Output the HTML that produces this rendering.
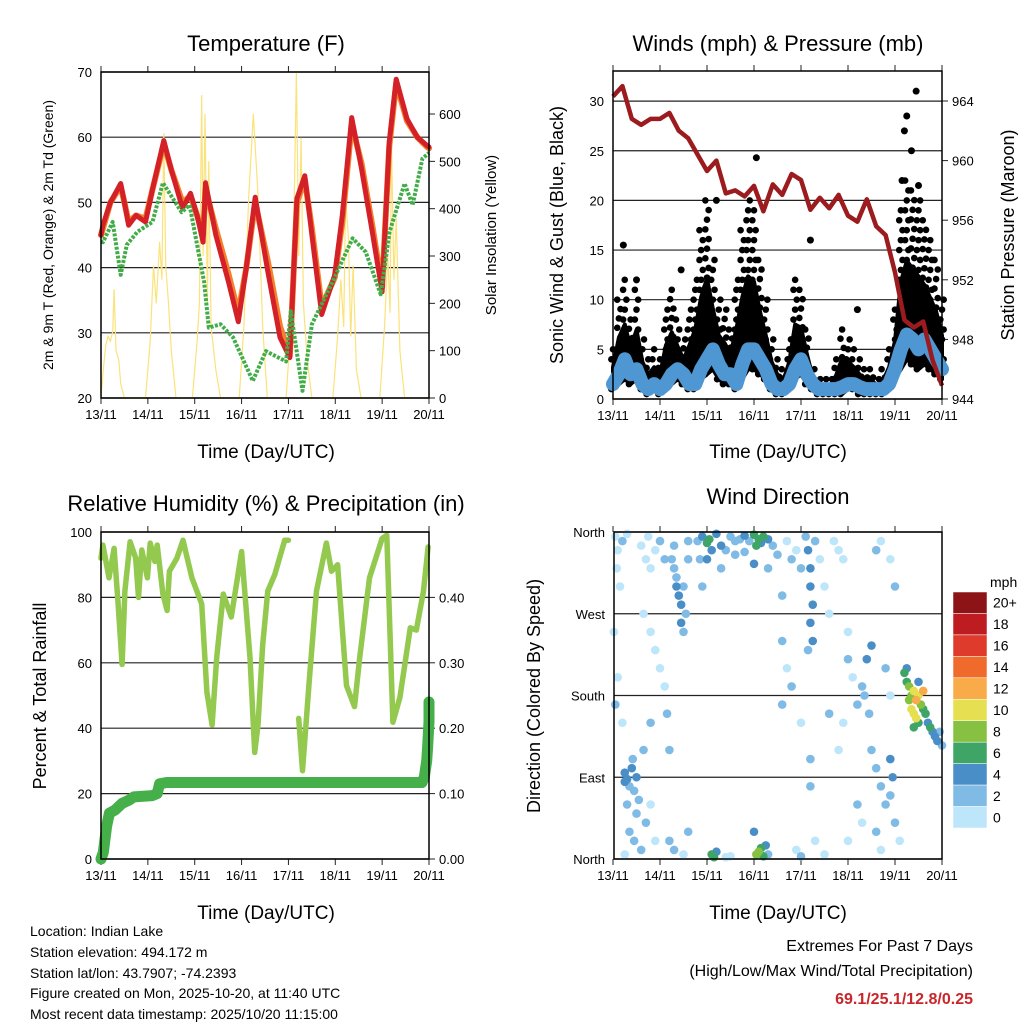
<!DOCTYPE html>
<html><head><meta charset="utf-8"><title>Weather station charts</title>
<style>
html,body{margin:0;padding:0;background:#fff;}
svg{display:block;font-family:"Liberation Sans",sans-serif;}
</style></head>
<body>
<svg id="chart" width="1024" height="1024" viewBox="0 0 1024 1024" xmlns="http://www.w3.org/2000/svg">
<rect x="0" y="0" width="1024" height="1024" fill="#fff"/>
<text x="266" y="51" font-size="22" text-anchor="middle">Temperature (F)</text>
<text x="778" y="51" font-size="22" text-anchor="middle">Winds (mph) &amp; Pressure (mb)</text>
<text x="266" y="511" font-size="22" text-anchor="middle">Relative Humidity (%) &amp; Precipitation (in)</text>
<text x="778" y="504" font-size="22" text-anchor="middle">Wind Direction</text>
<text x="266" y="458" font-size="19" text-anchor="middle">Time (Day/UTC)</text>
<text x="778" y="458" font-size="19" text-anchor="middle">Time (Day/UTC)</text>
<text x="266" y="919" font-size="19" text-anchor="middle">Time (Day/UTC)</text>
<text x="778" y="919" font-size="19" text-anchor="middle">Time (Day/UTC)</text>
<text transform="translate(53,235) rotate(-90)" font-size="14" text-anchor="middle">2m &amp; 9m T (Red, Orange) &amp; 2m Td (Green)</text>
<text transform="translate(496,235) rotate(-90)" font-size="15" text-anchor="middle">Solar Insolation (Yellow)</text>
<text transform="translate(563,235) rotate(-90)" font-size="18" text-anchor="middle">Sonic Wind &amp; Gust (Blue, Black)</text>
<text transform="translate(1014,235) rotate(-90)" font-size="18" text-anchor="middle">Station Pressure (Maroon)</text>
<text transform="translate(46,696) rotate(-90)" font-size="18" text-anchor="middle">Percent &amp; Total Rainfall</text>
<text transform="translate(540,696) rotate(-90)" font-size="18" text-anchor="middle">Direction (Colored By Speed)</text>
<g font-size="14">
<text x="30" y="936">Location: Indian Lake</text>
<text x="30" y="957">Station elevation: 494.172 m</text>
<text x="30" y="978">Station lat/lon: 43.7907; -74.2393</text>
<text x="30" y="998">Figure created on Mon, 2025-10-20, at 11:40 UTC</text>
<text x="30" y="1019">Most recent data timestamp: 2025/10/20 11:15:00</text>
</g>
<text x="973" y="951" font-size="16" text-anchor="end">Extremes For Past 7 Days</text>
<text x="973" y="976" font-size="16" text-anchor="end">(High/Low/Max Wind/Total Precipitation)</text>
<text x="973" y="1004" font-size="16" font-weight="bold" fill="#c8262a" text-anchor="end">69.1/25.1/12.8/0.25</text>
<text x="990" y="587" font-size="14">mph</text>
</svg>
<script>
// ---------- data ----------
const dayLabels = ["13/11","14/11","15/11","16/11","17/11","18/11","19/11","20/11"];
const tempTicks = [20,30,40,50,60,70];
const solarTicks = [0,100,200,300,400,500,600];
const windTicks = [0,5,10,15,20,25,30];
const presTicks = [944,948,952,956,960,964];
const rhTicks = [0,20,40,60,80,100];
const rainTicks = [0,0.1,0.2,0.3,0.4];
const rainTickLabels = ["0.00","0.10","0.20","0.30","0.40"];
const dirTicks = [0,90,180,270,360];
const dirTickLabels = ["North","East","South","West","North"];

const tempTimes = [0,0.04,0.2,0.42,0.5,0.59,0.75,0.95,1.1,1.34,1.5,1.74,1.91,2.05,2.18,2.23,2.45,2.72,2.93,3.1,3.29,3.56,3.82,4.03,4.18,4.35,4.5,4.71,4.99,5.15,5.35,5.56,5.8,6.0,6.15,6.3,6.53,6.75,6.96,7.0];
const tempRed =   [45,46.5,50,52.9,50,46.5,48,47,52,59.5,55,49.1,51.4,48,43.9,53,45,37.8,31.7,40,50.8,39.4,29.3,26.2,50.6,54.1,45,32.8,38.9,48,63,55.2,45,36.3,59.2,68.9,62.8,60,58.7,58.5];
const tempOrange= [45,46,50,52.5,50,47,48,47.5,52,59,55,50,51,48,45,52,46,39,33,40,50,41,31,26.5,50,53.5,46,34,38.5,47,62,56,46,37,58.5,68.3,62.5,60,58.5,58.3];
const dewTimes = [0,0.04,0.25,0.42,0.55,0.78,1.1,1.32,1.72,1.89,2.2,2.3,2.55,2.82,3.24,3.52,3.95,4.05,4.3,4.5,4.94,5.37,5.65,5.97,6.16,6.48,6.65,6.86,7.0];
const dewVals =  [44,43.9,47,38.9,43.5,45.5,47,53,48.5,49.6,37.8,30.8,31.3,29.3,22.6,27.2,25.6,33.3,21.1,31.3,37.8,44.5,42.4,35.9,45.5,52.9,49.6,56.7,57.6];
const solarTimes = [0,0.05,0.1,0.15,0.2,0.25,0.28,0.32,0.38,0.42,0.5,0.95,1.05,1.12,1.18,1.25,1.3,1.34,1.38,1.44,1.5,1.6,1.95,2.05,2.1,2.15,2.18,2.22,2.27,2.3,2.35,2.45,2.55,2.95,3.05,3.15,3.25,3.35,3.45,3.55,3.95,4.05,4.12,4.17,4.22,4.27,4.32,4.4,4.5,4.95,5.05,5.12,5.18,5.22,5.28,5.33,5.38,5.45,5.55,5.95,6.05,6.12,6.17,6.2,6.25,6.3,6.38,6.48,7.0];
const solarVals = [0,60,110,130,120,140,230,100,80,30,0,0,120,280,200,330,250,560,280,200,100,0,0,120,200,640,300,600,200,500,150,60,0,0,150,420,600,430,150,0,0,150,400,690,300,550,200,80,0,0,130,250,150,420,340,130,280,60,0,0,150,300,180,540,250,380,100,0,0];

const windTimes = [0,0.125,0.25,0.375,0.5,0.625,0.75,0.875,1,1.125,1.25,1.375,1.5,1.625,1.75,1.875,2,2.125,2.25,2.375,2.5,2.625,2.75,2.875,3,3.125,3.25,3.375,3.5,3.625,3.75,3.875,4,4.125,4.25,4.375,4.5,4.625,4.75,4.875,5,5.125,5.25,5.375,5.5,5.625,5.75,5.875,6,6.125,6.25,6.375,6.5,6.625,6.75,6.875,7];
const windSust = [1.5,2.5,4,2.5,3,1.5,1,1.5,1,1.5,2.5,3,2.5,1.5,1.5,3,4,5,3.5,2.5,2.5,1.5,3.5,5,5,4,3,1.5,1,1,1.5,3,4,2.5,1.5,1,1,1,1,1.2,1.5,1.5,1.2,1,1,1,1,1.5,3,5,6.5,6,5,6,5,4,3];
const gustHi =   [5,10,12,8,11,6,4,5,4,9,11,8,6,9,12,17,20,14,10,9,7,12,17,20,19,14,10,6,4,3,6,12,11,7,3,2,2,2,4,7,6,5,4,3,3,2,3,5,9,19,22,21,20,18,16,14,10];
const gustLo =   [1,1.5,2,1.5,2,1,0.5,1,0.5,1,1.5,2,1.5,1,1,2,2.5,3,2,1.5,1.5,1,2,3,3,2.5,2,1,0.5,0.5,1,2,2.5,1.5,1,0.5,0.5,0.5,0.5,0.5,1,1,0.5,0.5,0.5,0.5,0.5,1,2,3,4,3.5,3,3.5,3,2.5,2];
const gustOutT = [0.22,2.2,3.05,4.2,6.15,6.2,6.25,6.45,6.35,6.5,0.5,1.45,5.2];
const gustOutV = [15.5,20,24.3,16,22,27,28.5,31,25,21.5,12,13,9];
const presTimes = [0,0.2,0.4,0.6,0.8,1.0,1.2,1.4,1.6,1.8,2.0,2.2,2.4,2.6,2.8,3.0,3.2,3.4,3.6,3.8,4.0,4.2,4.4,4.6,4.8,5.0,5.2,5.4,5.6,5.8,6.0,6.2,6.4,6.6,6.8,7.0];
const presVals = [964.3,965,962.8,962.4,962.8,962.8,963.2,962.0,961.5,960.4,959.3,960.0,957.8,958.0,957.6,958.3,956.6,958.4,957.7,959.1,958.7,956.7,957.5,956.8,957.7,956.3,955.9,957.4,955.6,955.0,952.5,949.3,948.8,949.2,946.6,944.9];

const rhTimes = [0,0.04,0.17,0.28,0.36,0.45,0.51,0.62,0.74,0.8,0.87,0.99,1.05,1.15,1.2,1.32,1.41,1.46,1.62,1.75,1.94,2.15,2.26,2.37,2.47,2.61,2.78,3.0,3.18,3.28,3.35,3.45,3.56,3.71,3.92,4.0,4.06,4.22,4.3,4.45,4.6,4.81,4.92,5.05,5.24,5.41,5.52,5.73,6.0,6.1,6.23,6.38,6.6,6.73,6.88];
const rhVals =  [92,96,86,95,79,59.5,82,97,92,80,94.5,86,96.6,91,96,81,76,88,92,97.5,86,78,51,41,61.6,81,74,94,61.6,32.6,41,65.5,82,87,97.5,97.5,null,43,27,55.5,82,96.6,88,90,53,46.6,61.6,86,98,99,41.8,49.4,70.7,70,81.7];
const rhTail = [95.4];
const rainTimes = [0,0.05,0.12,0.18,0.3,0.45,0.6,0.7,1.1,1.2,1.25,1.4,6.85,6.9,6.95,6.97,7.0,7.0];
const rainVals = [0,0.01,0.05,0.07,0.075,0.085,0.09,0.095,0.097,0.1,0.115,0.117,0.117,0.125,0.15,0.17,0.21,0.24];

const dirTimes = [0.05,0.1,0.2,0.3,0.08,0.15,0.02,0.1,0.05,0.2,
0.25,0.3,0.35,0.4,0.45,0.5,0.55,0.3,0.42,0.25,0.5,0.35,0.45,0.6,0.25,0.7,0.8,0.9,0.65,0.8,
0.6,0.7,0.8,0.9,0.75,1.0,1.1,0.65,0.8,0.9,1.0,1.1,1.2,1.15,
1.25,1.3,1.35,1.4,1.45,1.35,1.5,1.55,1.6,1.3,1.45,1.5,1.6,1.2,1.3,1.5,1.6,
1.8,1.9,2.0,2.05,2.1,2.2,2.3,1.85,2.0,2.3,2.1,2.15,2.2,1.9,2.4,2.4,2.5,
2.5,2.6,2.7,2.8,2.9,3.0,3.1,3.2,3.05,3.15,3.3,2.6,2.8,3.4,3.5,3.3,3.0,3.1,3.15,3.2,3.25,3.05,3.3,3.0,3.6,
3.7,3.8,3.9,4.0,4.1,4.15,4.2,4.2,4.25,4.2,4.25,4.15,4.3,4.4,4.5,4.6,3.6,3.7,3.8,3.6,4.0,4.2,4.2,3.9,4.0,4.3,4.5,
4.7,4.8,4.9,5.0,5.0,5.1,5.2,4.9,5.3,5.4,5.5,5.35,5.45,5.5,5.6,5.7,5.8,5.6,5.7,5.3,5.0,5.2,4.6,4.8,5.8,5.9,5.6,5.7,5.9,6.0,5.9,5.95,5.9,6.0,6.1,
6.2,6.25,6.3,6.35,6.4,6.45,6.5,6.55,6.6,6.3,6.4,6.45,6.5,6.65,6.7,6.75,6.8,6.85,6.9,7.0,6.95,6.6,6.35,6.25,6.5,6.4];
const dirVals = [355,340,350,358,320,300,250,200,170,150,
95,88,80,100,75,90,65,60,110,85,50,30,20,10,5,40,60,20,120,150,
345,330,320,340,355,350,330,270,250,230,210,190,120,160,
330,320,300,290,280,310,300,270,330,345,260,250,350,20,10,5,30,
350,355,348,352,340,358,345,330,330,320,5,2,8,300,340,2,3,
355,350,352,356,350,357,352,355,345,348,352,335,338,345,335,320,325,8,12,3,15,5,5,30,290,
350,330,340,320,355,340,320,300,280,260,240,230,350,330,300,270,240,210,190,170,150,110,80,10,3,20,5,
350,340,330,250,220,200,170,150,190,220,235,180,160,120,100,80,60,30,10,40,20,60,160,120,210,180,340,350,330,300,110,90,70,40,20,
205,195,190,180,185,175,180,170,165,175,160,155,150,160,150,145,140,135,130,125,140,185,165,210,195,145];
const dirSpeeds = [1,1,2,1,1,1,1,1,2,1,
4,4,3,4,3,4,3,3,3,5,2,2,3,2,1,2,1,1,2,2,
1,1,1,1,1,2,2,1,1,1,1,1,2,2,
3,3,4,4,4,3,3,2,2,3,5,2,2,2,2,1,2,
3,4,6,7,5,4,4,3,4,3,7,6,5,2,3,1,1,
3,2,3,4,3,6,6,7,6,5,4,2,3,2,3,3,5,8,6,7,5,8,3,4,2,
1,2,1,2,3,4,4,4,5,5,4,2,3,1,1,1,2,1,2,2,1,2,3,1,2,1,1,
1,1,1,1,2,1,2,1,3,4,4,3,3,2,2,3,3,2,1,1,1,2,2,1,2,1,2,1,1,2,4,4,3,2,1,
6,7,8,9,10,12,10,8,7,9,11,10,6,6,5,6,4,5,4,3,3,13,10,4,4,7];
const cbarLabels = ["20+","18","16","14","12","10","8","6","4","2","0"];
const cbarColors = ["#8c1417","#bd1c20","#de3b2c","#f06a2c","#f8ab48","#e6df52","#86c142","#3fa566","#4a8ec8","#80bbe6","#bde6fa"];

// ---------- helpers ----------
const NS = "http://www.w3.org/2000/svg";
const svg = document.getElementById("chart");
function mk(tag, attrs, parent){
  const e = document.createElementNS(NS, tag);
  for (const k in attrs) e.setAttribute(k, attrs[k]);
  (parent || svg).appendChild(e);
  return e;
}
function pathFrom(ts, vs, fx, fy){
  let d = "", pen = false;
  for (let i=0;i<ts.length;i++){
    if (vs[i]===null){ pen=false; continue; }
    d += (pen?"L":"M") + fx(ts[i]).toFixed(1) + "," + fy(vs[i]).toFixed(1);
    pen = true;
  }
  return d;
}
function speedColor(s){
  const idx = Math.min(10, Math.floor(s/2));
  return cbarColors[10-idx];
}

// scales
const xL = d => 101 + d*(328/7);
const xR = d => 613 + d*(329/7);
const yT = v => 398 - (v-20)*6.52;
const yS = v => 398 - v*0.4733;
const yW = v => 399 - v*9.93;
const yP = p => 399 - (p-944)*14.9;
const yRH = v => 859 - v*3.27;
const yPr = v => 859 - v*654;
const yD = v => 859 - v*327/360;

function gridAndAxes(name, x0, x1, y0, y1, xf, leftTicks, leftFn, leftLabels, rightTicks, rightFn, rightLabels){
  const g = mk("g", {});
  
  
  leftTicks.forEach((t,i)=>{
    const y = leftFn(t);
    const ln = mk("line", {x1:x0, x2:x1, y1:y, y2:y, stroke:"#222", "stroke-width":1.2}, g);
    
    
    const tx = mk("text", {x:x0-9, y:y+5, "font-size":13, "text-anchor":"end"}, g);
    tx.textContent = leftLabels ? leftLabels[i] : t;
    
    
  });
  if (rightTicks) rightTicks.forEach((t,i)=>{
    const y = rightFn(t);
    const tk = mk("line", {x1:x1, x2:x1+6, y1:y, y2:y, stroke:"#222", "stroke-width":1}, g);
    
    
    const tx = mk("text", {x:x1+10, y:y+5, "font-size":13}, g);
    tx.textContent = rightLabels ? rightLabels[i] : t;
    
    
  });
  dayLabels.forEach((lab,i)=>{
    const x = xf(i);
    const tk = mk("line", {x1:x, x2:x, y1:y1, y2:y1+6, stroke:"#222", "stroke-width":1}, g);
    
    
    const tk2 = mk("line", {x1:x, x2:x, y1:y0, y2:y0-6, stroke:"#222", "stroke-width":1}, g);
    
    
    const tx = mk("text", {x:x, y:y1+21, "font-size":13, "text-anchor":"middle"}, g);
    tx.textContent = lab;
    
    
  });
}
function frame(name, x0, x1, y0, y1){
  const r = mk("rect", {x:x0, y:y0, width:x1-x0, height:y1-y0, fill:"none", stroke:"#000", "stroke-width":1.5});
  
  
}

// ---------- Panel 1: temperature ----------
gridAndAxes("temp", 101, 429, 72, 398, xL, tempTicks, yT, null, solarTicks, yS, null);
const solar = mk("path", {d:pathFrom(solarTimes, solarVals, xL, yS), fill:"none", stroke:"#fbe27a", "stroke-width":1.2});


const orange = mk("path", {d:pathFrom(tempTimes, tempOrange, xL, yT), fill:"none", stroke:"#f47f2c", "stroke-width":6, "stroke-linejoin":"round", "stroke-linecap":"round"});


const red = mk("path", {d:pathFrom(tempTimes, tempRed, xL, yT), fill:"none", stroke:"#d42027", "stroke-width":5, "stroke-linejoin":"round", "stroke-linecap":"round"});


const dew = mk("path", {d:pathFrom(dewTimes, dewVals, xL, yT), fill:"none", stroke:"#42ad48", "stroke-width":4, "stroke-dasharray":"3 1.5", "stroke-linejoin":"round"});


frame("temp", 101, 429, 72, 398);

// ---------- Panel 2: winds ----------
gridAndAxes("wind", 613, 942, 71, 399, xR, windTicks, yW, null, presTicks, yP, null);
// dense core of gusts (lower ~55% of range)
let band = "M";
windTimes.forEach((t,i)=>{ band += (i?"L":"") + xR(t).toFixed(1)+","+yW(gustLo[i]+0.55*(gustHi[i]-gustLo[i])).toFixed(1); });
for (let i=windTimes.length-1;i>=0;i--) band += "L"+xR(windTimes[i]).toFixed(1)+","+yW(gustLo[i]).toFixed(1);
const gb = mk("path", {d:band+"Z", fill:"#000", stroke:"#000", "stroke-width":4, "stroke-linejoin":"round"});


// sparser gust dots up to the bin maximum
windTimes.forEach((t,i)=>{
  const lo = gustLo[i], hi = gustHi[i];
  const n = Math.max(1, Math.round(hi - lo));
  for (let k=0;k<=n;k++){
    const v = lo + (hi-lo)*k/n;
    const off = ((k%3)-1)*0.035;
    const c = mk("circle", {cx:xR(t+off), cy:yW(v), r:3.3, fill:"#000"});
    
    
  }
});
gustOutT.forEach((t,i)=>{
  const c = mk("circle", {cx:xR(t), cy:yW(gustOutV[i]), r:3.5, fill:"#000"});
  
  
});
const sust = mk("path", {d:pathFrom(windTimes, windSust, xR, yW), fill:"none", stroke:"#4f97d2", "stroke-width":14, "stroke-linejoin":"round", "stroke-linecap":"round"});


const pres = mk("path", {d:pathFrom(presTimes, presVals, xR, yP), fill:"none", stroke:"#9b1b1e", "stroke-width":4.5, "stroke-linejoin":"round"});


frame("wind", 613, 942, 71, 399);

// ---------- Panel 3: RH ----------
gridAndAxes("rh", 101, 429, 532, 859, xL, rhTicks, yRH, null, rainTicks, yPr, rainTickLabels);
const rh = mk("path", {d:pathFrom(rhTimes.concat([6.98]), rhVals.concat(rhTail), xL, yRH), fill:"none", stroke:"#93c94f", "stroke-width":5.5, "stroke-linejoin":"round", "stroke-linecap":"round"});


const rain = mk("path", {d:pathFrom(rainTimes, rainVals, xL, yPr), fill:"none", stroke:"#45b04a", "stroke-width":11, "stroke-linejoin":"round", "stroke-linecap":"round"});


frame("rh", 101, 429, 532, 859);

// ---------- Panel 4: wind direction ----------
gridAndAxes("wd", 614, 942, 532, 859, xR, dirTicks, yD, dirTickLabels, null, null, null);
const order = dirSpeeds.map((s,i)=>i).sort((a,b)=>dirSpeeds[a]-dirSpeeds[b]);
order.forEach(i=>{
  const c = mk("circle", {cx:xR(dirTimes[i]), cy:yD(dirVals[i]), r:4.3, fill:speedColor(dirSpeeds[i])});
  
  
});
frame("wd", 614, 942, 532, 859);

// colorbar
const cbH = 236/11;
cbarLabels.forEach((lab,i)=>{
  const y = 592 + i*cbH;
  const r = mk("rect", {x:953, y:y, width:34, height:cbH, fill:cbarColors[i], stroke:"#fff", "stroke-width":0.5});
  
  
  const t = mk("text", {x:993, y:y+cbH/2+5, "font-size":14});
  t.textContent = lab;
  
  
});
</script>
</body></html>
